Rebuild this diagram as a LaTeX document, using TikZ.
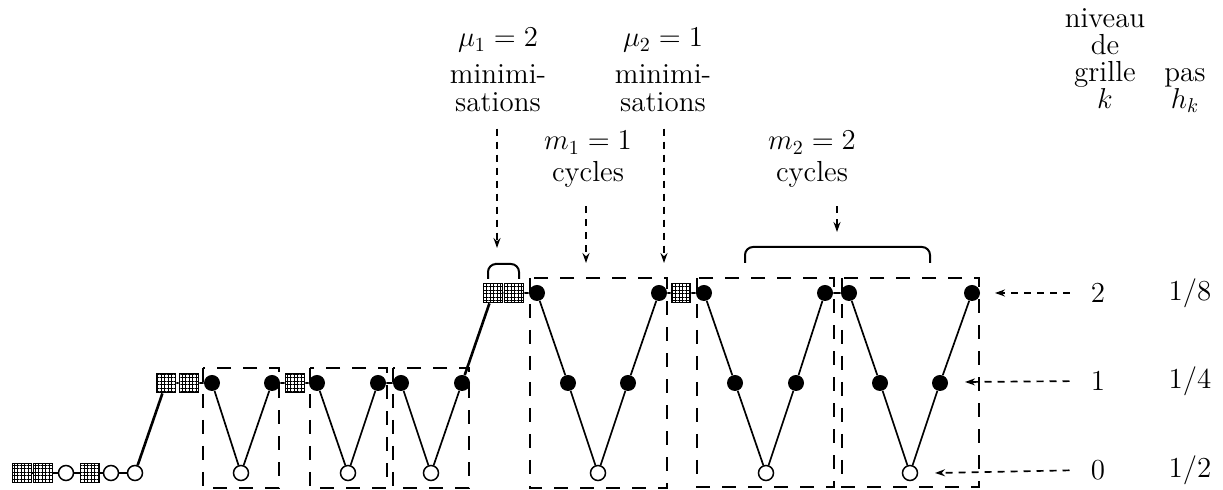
\documentclass[tikz,border=0pt]{standalone}
\usetikzlibrary{arrows.meta,patterns.meta}
\newcommand\tightlines{\lineskiplimit=-30pt\relax\lineskip=0pt\relax}
\begin{document}
\begin{tikzpicture}[x=0.5pt,y=-0.5pt,
 gsq/.style={rectangle,draw,line width=0.9pt,minimum size=9.5pt,inner sep=0pt,
   pattern={Hatch[angle=0,distance=1.75pt,line width=0.5pt]}},
 fc/.style={circle,fill=black,minimum size=8pt,inner sep=0pt},
 oc/.style={circle,draw,fill=white,line width=0.75pt,minimum size=7.5pt,inner sep=0pt},
 edge/.style={line width=0.85pt},
 thk/.style={line width=1.3pt},
 dbox/.style={draw,line width=1pt,dash pattern=on 7pt off 6pt},
 darr/.style={line width=0.85pt,dash pattern=on 3.5pt off 3pt,-{Stealth[length=5pt,width=3.5pt]}},
 lbl/.style={font=\fontsize{14.5}{14}\selectfont\tightlines,align=center,inner sep=0pt},
 hdr/.style={font=\fontsize{14.5}{13.5}\selectfont\tightlines,align=center,inner sep=0pt},
 num/.style={font=\fontsize{14.5}{14}\selectfont,inner sep=2pt},
 brace/.style={line width=1pt,rounded corners=4pt}
]
\useasboundingbox (0,0) rectangle (1223,490);

% level 0 start
\node[gsq] (s1) at (22,473) {};
\node[gsq] (s2) at (43,473) {};
\node[oc]  (o1) at (66,473) {};
\node[gsq] (s3) at (90,473) {};
\node[oc]  (o2) at (111,473) {};
\node[oc]  (o3) at (135,473) {};
% level 1 part
\node[gsq] (q1) at (166,383) {};
\node[gsq] (q2) at (189,383) {};
\node[fc] (a1) at (212,383) {};
\node[oc] (b1) at (241,473) {};
\node[fc] (a2) at (272,383) {};
\node[gsq] (q3) at (295,383) {};
\node[fc] (a3) at (317,383) {};
\node[oc] (b2) at (348,473) {};
\node[fc] (a4) at (378,383) {};
\node[fc] (a5) at (401,383) {};
\node[oc] (b3) at (431,473) {};
\node[fc] (a6) at (462,383) {};
% level 2 part
\node[gsq] (q4) at (493,293) {};
\node[gsq] (q5) at (514,293) {};
\node[fc] (c1) at (537,293) {};
\node[fc] (c2) at (568,383) {};
\node[oc] (c3) at (598,473) {};
\node[fc] (c4) at (628,383) {};
\node[fc] (c5) at (659,293) {};
\node[gsq] (q6) at (681,293) {};
\node[fc] (c6) at (704,293) {};
\node[fc] (c7) at (735,383) {};
\node[oc] (c8) at (766,473) {};
\node[fc] (c9) at (796,383) {};
\node[fc] (c10) at (825,293) {};
\node[fc] (c11) at (849,293) {};
\node[fc] (c12) at (880,383) {};
\node[oc] (c13) at (910,473) {};
\node[fc] (c14) at (940,383) {};
\node[fc] (c15) at (972,293) {};

% edges
\draw[edge] (s1)--(s2) (s2)--(o1) (o1)--(s3) (s3)--(o2) (o2)--(o3);
\draw[thk] (o3)--(q1);
\draw[edge] (q1)--(q2) (q2)--(a1) (a1)--(b1) (b1)--(a2) (a2)--(q3) (q3)--(a3)
  (a3)--(b2) (b2)--(a4) (a4)--(a5) (a5)--(b3) (b3)--(a6);
\draw[thk] (a6)--(q4);
\draw[edge] (q4)--(q5) (q5)--(c1) (c1)--(c2) (c2)--(c3) (c3)--(c4) (c4)--(c5)
  (c5)--(q6) (q6)--(c6) (c6)--(c7) (c7)--(c8) (c8)--(c9) (c9)--(c10)
  (c10)--(c11) (c11)--(c12) (c12)--(c13) (c13)--(c14) (c14)--(c15);

% dashed boxes
\draw[dbox] (203,368) rectangle (279,488);
\draw[dbox] (310,368) rectangle (387,488);
\draw[dbox] (393,368) rectangle (469,488);
\draw[dbox] (530,278) rectangle (667,488);
\draw[dbox] (697,278) rectangle (834,487);
\draw[dbox] (842,278) rectangle (979,487);

% braces
\draw[brace] (488,279) |- (503,264) -| (519,279);
\draw[brace] (745,263) |- (837,247) -| (930,263);

% labels
\node[lbl,anchor=north] (mu1) at (498,28) {$\mu_1=2$\\[4.5pt]minimi-\\sations};
\node[lbl,anchor=north] (mu2) at (663,28) {$\mu_2=1$\\[4.5pt]minimi-\\sations};
\node[lbl,anchor=north] (m1) at (588,131) {$m_1=1$\\[2pt]cycles};
\node[lbl,anchor=north] (m2) at (812,131) {$m_2=2$\\[2pt]cycles};

\coordinate (t1) at (497,248);
\coordinate (t2) at (586,263);
\coordinate (t3) at (664,263);
\coordinate (t4) at (837,232);
\draw[darr,shorten <=8pt] (mu1.south -| t1) -- (t1);
\draw[darr,shorten <=9pt] (m1.south -| t2) -- (t2);
\draw[darr,shorten <=8pt] (mu2.south -| t3) -- (t3);
\draw[darr,shorten <=9pt] (m2.south -| t4) -- (t4);

% header
\node[hdr,anchor=north] (niv) at (1105,8) {niveau\\de\\grille\\$k$};
\node[hdr,anchor=north] (pas) at (1185,68) {pas\\$h_k$};

% levels
\node[num] (k2) at (1098,293) {2};
\node[num] (k1) at (1098,381) {1};
\node[num] (k0) at (1098,470) {0};
\node[num] (h2) at (1190,293) {1/8};
\node[num] (h1) at (1190,381) {1/4};
\node[num] (h0) at (1190,470) {1/2};
\coordinate (l2) at (995,293);
\coordinate (l1) at (965,382);
\coordinate (l0) at (935,473);
\draw[darr,shorten <=8.5pt] (k2.west) -- (l2);
\draw[darr,shorten <=8.5pt] (k1.west) -- (l1);
\draw[darr,shorten <=8.5pt] (k0.west) -- (l0);
\end{tikzpicture}
\end{document}
